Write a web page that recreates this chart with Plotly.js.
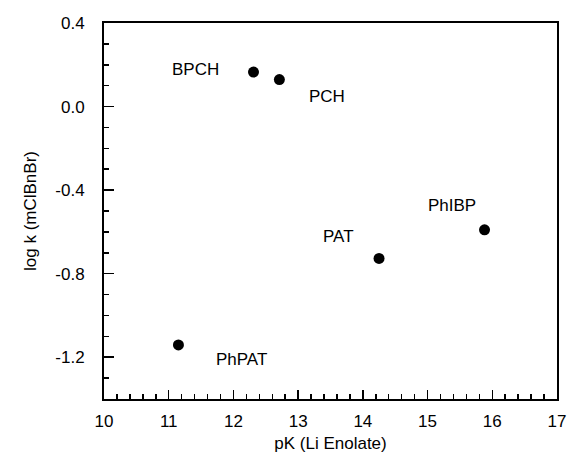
<!DOCTYPE html>
<html>
<head>
<meta charset="utf-8">
<script src="https://cdn.plot.ly/plotly-3.0.1.min.js"></script>
<style>html,body{margin:0;padding:0;background:#fff;}#chart{width:567px;height:459px;}</style>
</head>
<body>
<div id="chart"></div>
<script>
var names = ["BPCH", "PCH", "PAT", "PhIBP", "PhPAT"];
var pK = [12.31, 12.71, 14.25, 15.88, 11.15];
var logk = [0.165, 0.129, -0.727, -0.59, -1.141];
var xTicks = [10, 11, 12, 13, 14, 15, 16, 17];
var yTicks = [0.4, 0.0, -0.4, -0.8, -1.2];
var yTickText = ["0.4", "0.0", "-0.4", "-0.8", "-1.2"];
var labelShiftX = [-58, 48, -41, -33, 63];
var labelShiftY = [3, -17, 22, 24, -15];

var font = {family: "Liberation Sans, Arial, sans-serif", size: 17, color: "#000"};

var trace = {
  x: pK, y: logk, mode: "markers", type: "scatter",
  marker: {color: "#000", size: 11},
  hoverinfo: "none"
};

var annotations = names.map(function (n, i) {
  return {x: pK[i], y: logk[i], xref: "x", yref: "y", text: n, showarrow: false,
          xshift: labelShiftX[i], yshift: labelShiftY[i], font: font};
});

var layout = {
  width: 567, height: 459,
  margin: {l: 103.5, r: 9.5, t: 22.5, b: 59.5},
  paper_bgcolor: "#fff", plot_bgcolor: "#fff",
  showlegend: false,
  font: font,
  xaxis: {
    range: [10, 17], tickvals: xTicks, ticktext: xTicks.map(String),
    ticks: "inside", ticklen: 9, tickwidth: 1.5, tickcolor: "#000",
    minor: {dtick: 0.2, ticks: "inside", ticklen: 5, tickwidth: 1.5, tickcolor: "#000", showgrid: false},
    showline: true, linecolor: "#000", linewidth: 2, mirror: true,
    showgrid: false, zeroline: false, tickfont: font, ticklabelstandoff: 6,
    title: {text: "pK (Li Enolate)", font: font, standoff: 7}
  },
  yaxis: {
    range: [-1.4, 0.4], tickvals: yTicks, ticktext: yTickText,
    ticks: "inside", ticklen: 10, tickwidth: 1.5, tickcolor: "#000",
    minor: {dtick: 0.1, tick0: 0, ticks: "inside", ticklen: 5, tickwidth: 1.5, tickcolor: "#000", showgrid: false},
    showline: true, linecolor: "#000", linewidth: 2, mirror: true,
    showgrid: false, zeroline: false, tickfont: font, ticklabelstandoff: 14,
    title: {text: "log k (mClBnBr)", font: font, standoff: 14}
  },
  annotations: annotations
};

Plotly.newPlot("chart", [trace], layout, {displayModeBar: false, staticPlot: true});
</script>
</body>
</html>
